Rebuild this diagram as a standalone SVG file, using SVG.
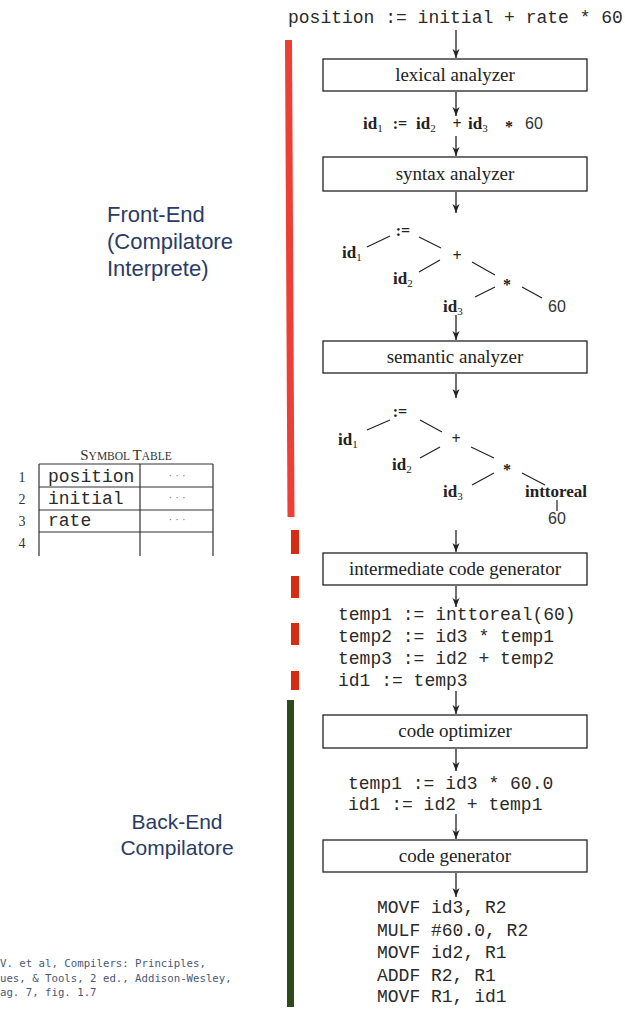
<svg xmlns="http://www.w3.org/2000/svg" width="625" height="1013" viewBox="0 0 625 1013">
<style>
.box{fill:#fff;stroke:#222;stroke-width:1.3}
.lbl{font-family:"Liberation Serif",serif;font-size:19px;fill:#222;text-anchor:middle}
.mono{font-family:"Liberation Mono",monospace;font-size:18px;fill:#2a2a2a}
.id{font-family:"Liberation Serif",serif;font-weight:bold;font-size:17px;fill:#222}
.sub{font-size:11px;font-weight:normal}
.op{font-family:"Liberation Serif",serif;font-weight:bold;font-size:16px;fill:#222;text-anchor:middle}
.num{font-family:"Liberation Sans",sans-serif;font-size:16px;fill:#333}
.edge{stroke:#222;stroke-width:1.2;fill:none}
.arr{stroke:#222;stroke-width:1.3;fill:none;marker-end:url(#ah)}
.side{font-family:"Liberation Sans",Arial,sans-serif;fill:#2a3b66}
.cite{font-family:"DejaVu Sans Mono",monospace;font-size:10.7px;fill:#4a5878}
.tbl{stroke:#333;stroke-width:1.2;fill:none}
.rn{font-family:"Liberation Serif",serif;font-size:14px;fill:#333;text-anchor:middle}
</style>
<defs>
<marker id="ah" markerUnits="userSpaceOnUse" markerWidth="10" markerHeight="10" refX="9" refY="3.5" orient="auto">
<path d="M0,0 L9,3.5 L0,7 L2.5,3.5 z" fill="#222"/>
</marker>
</defs>
<rect width="625" height="1013" fill="#fff"/>

<g id="phase-bars">
<line x1="288.5" y1="40" x2="291" y2="517" stroke="#ee3f36" stroke-width="7"/>
<rect x="291" y="530" width="8" height="24" fill="#d62c12"/>
<rect x="291" y="576" width="8" height="22" fill="#d62c12"/>
<rect x="291" y="623" width="8" height="22" fill="#d62c12"/>
<rect x="291" y="671" width="8" height="19" fill="#d62c12"/>
<rect x="287" y="700" width="7" height="307" fill="#2c4a1c"/>
</g>

<g id="side-labels">
<text class="side" font-size="22" x="107" y="222">Front-End</text>
<text class="side" font-size="22" x="107" y="249">(Compilatore</text>
<text class="side" font-size="22" x="107" y="276">Interprete)</text>
<text class="side" font-size="21" x="177" y="829" text-anchor="middle">Back-End</text>
<text class="side" font-size="21" x="177" y="855" text-anchor="middle">Compilatore</text>
</g>

<g id="citation">
<text class="cite" x="0" y="967">V. et al, Compilers: Principles,</text>
<text class="cite" x="0" y="982">ues, &amp; Tools, 2 ed., Addison-Wesley,</text>
<text class="cite" x="0" y="996">ag. 7, fig. 1.7</text>
</g>

<g id="symbol-table">
<text x="126" y="460" text-anchor="middle" font-family="Liberation Serif,serif" fill="#333"><tspan font-size="15">S</tspan><tspan font-size="11.5">YMBOL </tspan><tspan font-size="15">T</tspan><tspan font-size="11.5">ABLE</tspan></text>
<path class="tbl" d="M39,464 H213 M39,487 H213 M39,510 H213 M39,532 H213 M39,464 V556 M140,464 V556 M213,464 V556"/>
<text class="rn" x="22" y="482">1</text>
<text class="rn" x="22" y="504">2</text>
<text class="rn" x="22" y="526">3</text>
<text class="rn" x="22" y="548">4</text>
<text class="mono" font-size="17.5" x="48" y="482">position</text>
<text class="mono" font-size="17.5" x="48" y="504">initial</text>
<text class="mono" font-size="17.5" x="48" y="526">rate</text>
<text x="177" y="479" text-anchor="middle" font-family="Liberation Sans,sans-serif" font-size="11" fill="#777">· · ·</text>
<text x="177" y="501" text-anchor="middle" font-family="Liberation Sans,sans-serif" font-size="11" fill="#777">· · ·</text>
<text x="177" y="523" text-anchor="middle" font-family="Liberation Sans,sans-serif" font-size="11" fill="#777">· · ·</text>
</g>

<g id="source">
<text class="mono" x="288" y="23">position := initial + rate * 60</text>
</g>

<g id="lexical-analyzer">
<rect class="box" x="323" y="59" width="264" height="32"/>
<text class="lbl" x="455" y="81">lexical analyzer</text>
</g>

<g id="tokens">
<text class="id" x="363" y="129">id<tspan class="sub" dy="3">1</tspan></text>
<text class="op" x="400" y="129">:=</text>
<text class="id" x="416" y="129">id<tspan class="sub" dy="3">2</tspan></text>
<text class="op" x="457" y="129">+</text>
<text class="id" x="468" y="129">id<tspan class="sub" dy="3">3</tspan></text>
<text class="op" x="509" y="132">*</text>
<text class="num" x="525" y="129">60</text>
</g>

<g id="syntax-analyzer">
<rect class="box" x="323" y="157" width="264" height="34"/>
<text class="lbl" x="455" y="180">syntax analyzer</text>
</g>

<g id="syntax-tree">
<text class="op" x="403" y="236">:=</text>
<text class="id" x="342" y="258">id<tspan class="sub" dy="3">1</tspan></text>
<text class="op" x="457" y="261">+</text>
<text class="id" x="393" y="284">id<tspan class="sub" dy="3">2</tspan></text>
<text class="op" x="507" y="290">*</text>
<text class="id" x="443" y="312">id<tspan class="sub" dy="3">3</tspan></text>
<text class="num" x="548" y="312">60</text>
<path class="edge" d="M367,247 L390,236 M419,237 L441,248 M440,260 L419,272 M472,262 L495,275 M495,287 L475,297 M522,287 L542,298"/>
</g>

<g id="semantic-analyzer">
<rect class="box" x="323" y="341" width="264" height="32"/>
<text class="lbl" x="455" y="363">semantic analyzer</text>
</g>

<g id="annotated-tree">
<text class="op" x="400" y="417">:=</text>
<text class="id" x="338" y="445">id<tspan class="sub" dy="3">1</tspan></text>
<text class="op" x="456" y="444">+</text>
<text class="id" x="392" y="470">id<tspan class="sub" dy="3">2</tspan></text>
<text class="op" x="507" y="475">*</text>
<text class="id" x="443" y="497">id<tspan class="sub" dy="3">3</tspan></text>
<text class="id" x="525" y="497">inttoreal</text>
<text class="num" x="557" y="524" text-anchor="middle">60</text>
<path class="edge" d="M367,430 L390,420 M420,420 L442,432 M440,447 L420,458 M471,447 L494,458 M494,473 L472,485 M522,473 L545,485 M557,500 L557,511"/>
</g>

<g id="intermediate-code-generator">
<rect class="box" x="323" y="553" width="264" height="32"/>
<text class="lbl" x="455" y="575">intermediate code generator</text>
</g>

<g id="intermediate-code">
<text class="mono" x="338" y="620">temp1 := inttoreal(60)</text>
<text class="mono" x="338" y="642">temp2 := id3 * temp1</text>
<text class="mono" x="338" y="664">temp3 := id2 + temp2</text>
<text class="mono" x="338" y="686">id1 := temp3</text>
</g>

<g id="code-optimizer">
<rect class="box" x="323" y="715" width="264" height="33"/>
<text class="lbl" x="455" y="737">code optimizer</text>
</g>

<g id="optimized-code">
<text class="mono" x="348" y="789">temp1 := id3 * 60.0</text>
<text class="mono" x="348" y="810">id1 := id2 + temp1</text>
</g>

<g id="code-generator">
<rect class="box" x="323" y="840" width="264" height="32"/>
<text class="lbl" x="455" y="862">code generator</text>
</g>

<g id="target-code">
<text class="mono" x="377" y="913">MOVF id3, R2</text>
<text class="mono" x="377" y="936">MULF #60.0, R2</text>
<text class="mono" x="377" y="958">MOVF id2, R1</text>
<text class="mono" x="377" y="981">ADDF R2, R1</text>
<text class="mono" x="377" y="1002">MOVF R1, id1</text>
</g>

<g id="connectors">
<line class="arr" x1="456" y1="30" x2="456" y2="58"/>
<line class="arr" x1="456" y1="92" x2="456" y2="116"/>
<line class="arr" x1="456" y1="136" x2="456" y2="156"/>
<line class="arr" x1="456" y1="192" x2="456" y2="213"/>
<line class="arr" x1="456" y1="315" x2="456" y2="340"/>
<line class="arr" x1="456" y1="374" x2="456" y2="398"/>
<line class="arr" x1="456" y1="530" x2="456" y2="552"/>
<line class="arr" x1="456" y1="586" x2="456" y2="607"/>
<line class="arr" x1="456" y1="691" x2="456" y2="714"/>
<line class="arr" x1="456" y1="749" x2="456" y2="771"/>
<line class="arr" x1="456" y1="814" x2="456" y2="839"/>
<line class="arr" x1="456" y1="873" x2="456" y2="897"/>
</g>
</svg>
